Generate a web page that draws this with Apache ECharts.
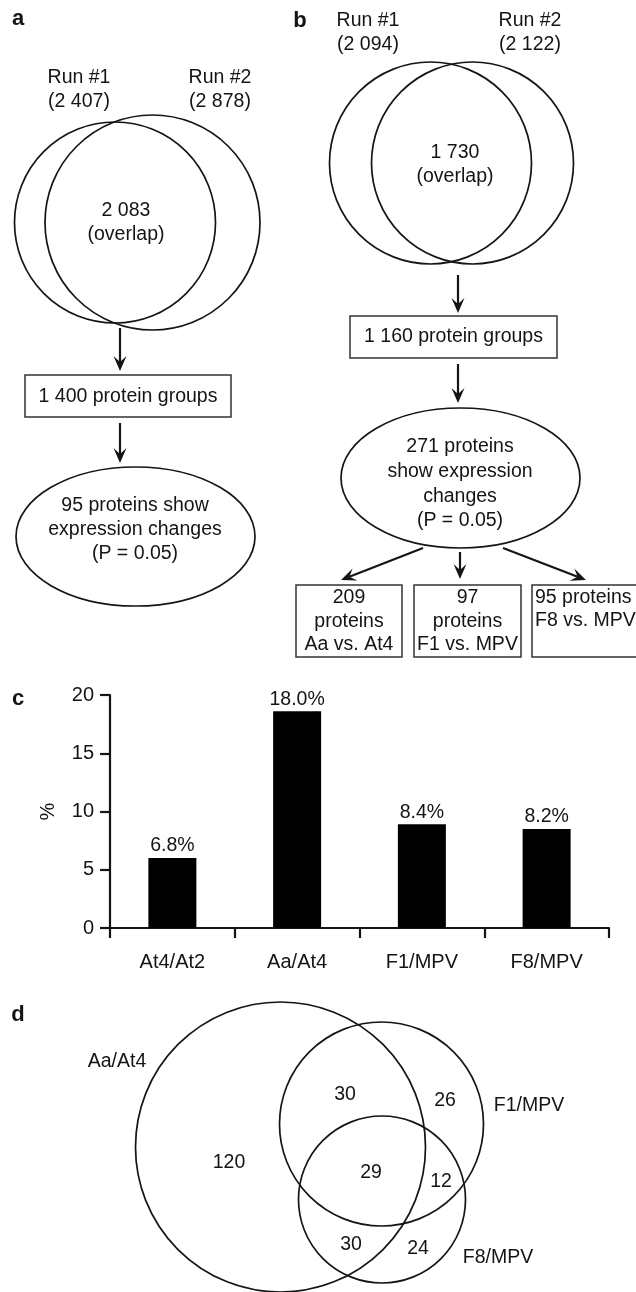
<!DOCTYPE html>
<html><head><meta charset="utf-8">
<script src="https://cdn.jsdelivr.net/npm/echarts@6/dist/echarts.min.js"></script>
<style>html,body{margin:0;padding:0;background:#fff}#chart{width:636px;height:1292px}</style>
</head><body><div id="chart"></div>
<script>
// ---------------- data ----------------
const panelLetters = ['a', 'b', 'c', 'd'];
const runNamesA = ['Run #1', 'Run #2'];
const runCountsA = ['2 407', '2 878'];
const overlapA = '2 083';
const proteinGroupsA = '1 400';
const changedA = 95;
const runNamesB = ['Run #1', 'Run #2'];
const runCountsB = ['2 094', '2 122'];
const overlapB = '1 730';
const proteinGroupsB = '1 160';
const changedB = 271;
const pValue = '0.05';
const subsetCountsB = [209, 97, 95];
const subsetComparisonsB = ['Aa vs. At4', 'F1 vs. MPV', 'F8 vs. MPV'];
const barCategories = ['At4/At2', 'Aa/At4', 'F1/MPV', 'F8/MPV'];
const barValues = [6.0, 18.6, 8.9, 8.5];
const barLabels = ['6.8%', '18.0%', '8.4%', '8.2%'];
const yTicks = [0, 5, 10, 15, 20];
const vennSetNames = ['Aa/At4', 'F1/MPV', 'F8/MPV'];
const vennRegionNames = ['Aa only', 'F1 only', 'F8 only', 'Aa+F1', 'Aa+F8', 'F1+F8', 'all'];
const vennRegionCounts = [120, 26, 24, 30, 30, 12, 29];

// ---------------- layout / style ----------------
const FONT = '"Liberation Sans", Arial, Helvetica, sans-serif';
const INK = '#151515';
const TXT = '#141414';
const FS = 19.5;
const els = [];
function txt(x, y, text, o) {
  o = o || {};
  els.push({
    type: 'text', x: x, y: y, z: 10,
    style: {
      text: text, fill: o.fill || TXT,
      fontSize: o.fontSize || FS, fontFamily: FONT, fontWeight: o.bold ? 'bold' : 'normal',
      align: o.align || 'center', verticalAlign: 'middle',
      textAlign: o.align || 'center', textVerticalAlign: 'middle',
      lineHeight: o.lineHeight || 24
    }
  });
}
function circle(cx, cy, r) {
  els.push({ type: 'circle', shape: { cx: cx, cy: cy, r: r }, style: { fill: 'none', stroke: INK, lineWidth: 1.7 } });
}
function ellipse(cx, cy, rx, ry) {
  els.push({ type: 'ellipse', shape: { cx: cx, cy: cy, rx: rx, ry: ry }, style: { fill: 'none', stroke: INK, lineWidth: 1.7 } });
}
function box(x1, y1, x2, y2) {
  els.push({ type: 'rect', shape: { x: x1, y: y1, width: x2 - x1, height: y2 - y1 }, style: { fill: 'none', stroke: '#333', lineWidth: 1.5 } });
}
function arrow(x1, y1, x2, y2) {
  const dx = x2 - x1, dy = y2 - y1, L = Math.hypot(dx, dy), ux = dx / L, uy = dy / L;
  const hl = 15, hw = 6.5;
  const bx = x2 - ux * hl, by = y2 - uy * hl, nx = -uy, ny = ux;
  const nt = [x2 - ux * hl * 0.6, y2 - uy * hl * 0.6];
  els.push({ type: 'line', shape: { x1: x1, y1: y1, x2: nt[0], y2: nt[1] }, style: { stroke: INK, lineWidth: 2.2 } });
  els.push({ type: 'polygon', shape: { points: [[x2, y2], [bx + nx * hw, by + ny * hw], nt, [bx - nx * hw, by - ny * hw]] }, style: { fill: INK } });
}

// panel letters
txt(18, 19, panelLetters[0], { bold: true, fontSize: 22 });
txt(300, 21, panelLetters[1], { bold: true, fontSize: 22 });
txt(18, 699, panelLetters[2], { bold: true, fontSize: 22 });
txt(18, 1015, panelLetters[3], { bold: true, fontSize: 22 });

// ---- panel a ----
txt(79, 90, runNamesA[0] + '\n(' + runCountsA[0] + ')');
txt(220, 90, runNamesA[1] + '\n(' + runCountsA[1] + ')');
circle(115, 222.5, 100.5);
circle(152.5, 222.5, 107.5);
txt(126, 223, overlapA + '\n(overlap)');
arrow(120, 328, 120, 371);
box(25, 375, 231, 417);
txt(128, 397, proteinGroupsA + ' protein groups');
arrow(120, 423, 120, 463);
ellipse(135.5, 536.5, 119.5, 69.5);
txt(135, 529.5, changedA + ' proteins show\nexpression changes\n(P = ' + pValue + ')');

// ---- panel b ----
txt(368, 33, runNamesB[0] + '\n(' + runCountsB[0] + ')');
txt(530, 33, runNamesB[1] + '\n(' + runCountsB[1] + ')');
circle(430.5, 163, 101);
circle(472.5, 163, 101);
txt(455, 165, overlapB + '\n(overlap)');
arrow(458, 275, 458, 313);
box(350, 316, 557, 358);
txt(453.5, 337, proteinGroupsB + ' protein groups');
arrow(458, 364, 458, 403);
ellipse(460.5, 478, 119.5, 70);
txt(460, 484, changedB + ' proteins\nshow expression\nchanges\n(P = ' + pValue + ')', { lineHeight: 24.6 });
arrow(423, 548, 341, 580);
arrow(460, 552, 460, 579);
arrow(503, 548, 586, 580);
box(296, 585, 402, 657);
box(414, 585, 521, 657);
box(532, 585, 660, 657);
txt(349, 621.5, subsetCountsB[0] + '\nproteins\n' + subsetComparisonsB[0], { lineHeight: 23.5 });
txt(467.5, 621.5, subsetCountsB[1] + '\nproteins\n' + subsetComparisonsB[1], { lineHeight: 23.5 });
txt(535, 609, subsetCountsB[2] + ' proteins\n' + subsetComparisonsB[2], { align: 'left', lineHeight: 23.5 });

// ---- panel d (Venn) ----
circle(280.5, 1147, 145);
circle(381.5, 1124, 102);
circle(382, 1199.5, 83.5);
txt(117, 1062, vennSetNames[0]);
txt(529, 1106, vennSetNames[1]);
txt(498, 1258, vennSetNames[2]);
const regionPos = [[229, 1163], [445, 1101], [418, 1249], [345, 1095], [351, 1245], [441, 1182], [371, 1173]];
vennRegionCounts.forEach(function (c, i) { txt(regionPos[i][0], regionPos[i][1], String(c)); });

// ---------------- chart ----------------
const chart = echarts.init(document.getElementById('chart'), null, { renderer: 'canvas' });
chart.setOption({
  backgroundColor: '#fff',
  animation: false,
  textStyle: { fontFamily: FONT },
  grid: { left: 110, right: 27, top: 695, bottom: 364, containLabel: false },
  xAxis: {
    type: 'category', data: barCategories, boundaryGap: true,
    axisLine: { lineStyle: { color: INK, width: 2.2 } },
    axisTick: { show: true, length: 10, lineStyle: { color: INK, width: 2.2 } },
    axisLabel: { color: TXT, fontSize: 20, fontFamily: FONT, margin: 24 }
  },
  yAxis: {
    type: 'value', min: yTicks[0], max: yTicks[yTicks.length - 1], interval: yTicks[1] - yTicks[0],
    name: '%', nameLocation: 'middle', nameGap: 52, nameRotate: 90,
    nameTextStyle: { color: TXT, fontSize: 20, fontFamily: FONT },
    axisLine: { show: true, lineStyle: { color: INK, width: 2.2 } },
    axisTick: { show: true, length: 10, lineStyle: { color: INK, width: 2.2 } },
    axisLabel: { color: TXT, fontSize: 20, fontFamily: FONT, margin: 16 },
    splitLine: { show: false }
  },
  series: [{
    type: 'bar', data: barValues, barWidth: 48,
    itemStyle: { color: '#000' },
    label: {
      show: true, position: 'top', distance: 2, color: TXT, fontSize: FS, fontFamily: FONT,
      formatter: function (p) { return barLabels[p.dataIndex]; }
    }
  }],
  graphic: { elements: els }
});
</script>
</body></html>
